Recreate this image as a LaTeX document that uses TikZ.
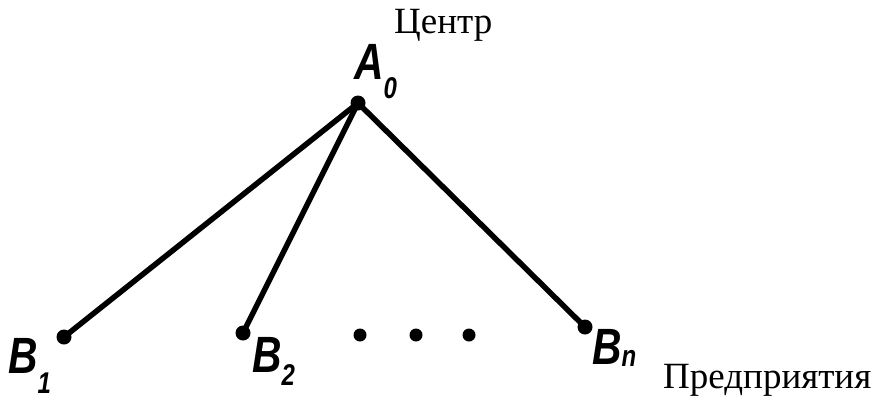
\documentclass[tikz,border=0pt]{standalone}
\usepackage{fontspec}
\setmainfont{Liberation Serif}
\newfontfamily\etfont{Liberation Sans}[FakeStretch=0.8]
\usepackage{tikz}
\usetikzlibrary{positioning, calc}
\newcommand{\etich}[3][14pt]{{\etfont\bfseries\itshape\fontsize{51}{51}\selectfont #2\raisebox{-#1}{\fontsize{30}{30}\selectfont #3}}}
\tikzset{
  punto/.style={circle, fill=black, inner sep=0pt, minimum size=15pt},
  puntino/.style={circle, fill=black, inner sep=0pt, minimum size=13pt},
  etichetta/.style={inner sep=0pt, anchor=base west},
  testo/.style={inner sep=0pt, anchor=base west, font=\fontsize{37}{37}\selectfont},
  ramo/.style={line width=5.5pt}
}
\begin{document}
\begin{tikzpicture}[x=1pt, y=-1pt]
        \useasboundingbox (0,0) rectangle (874,400);
        %disegno centro
        \node[punto] (a0) at (358,103) {};
        \node[etichetta] (la0) at (354,79) {\etich[19pt]{A}{0}};
        \node[testo] (centro) at (394,33) {Центр};
        %disegno imprese
        \node[punto] (b1) at (64,337) {};
        \node[punto] (b2) at (243,333) {};
        \node[punto] (bn) at (585,327) {};
        \node[etichetta] (lb1) at (8,373) {\etich[20pt]{B}{1}};
        \node[etichetta] (lb2) at (252,372) {\etich[13pt]{B}{2}};
        \node[etichetta] (lbn) at (592,364) {\etich[2pt]{B}{n}};
        \node[testo] (imprese) at (663,388) {Предприятия};
        %disegno puntini
        \node[puntino] (d1) at (360,335) {};
        \node[puntino] (d2) at (416,335) {};
        \node[puntino] (d3) at (469,335) {};
        %disegno rami
        \draw[ramo] (a0.center) -- (b1.center);
        \draw[ramo] (a0.center) -- (b2.center);
        \draw[ramo] (a0.center) -- (bn.center);
    \end{tikzpicture}
\end{document}
